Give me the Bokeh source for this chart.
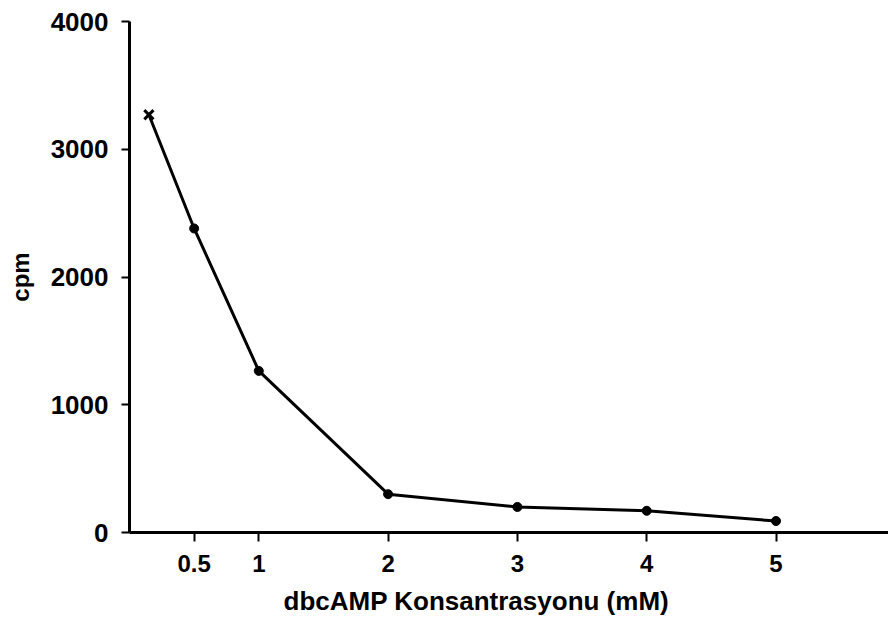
from bokeh.plotting import figure
from bokeh.models import ColumnDataSource, FixedTicker, Range1d, Title
from bokeh.embed import file_html
from bokeh.resources import INLINE

# Data
conc = [0.15, 0.5, 1, 2, 3, 4, 5]
cpm = [3270, 2380, 1265, 300, 200, 170, 90]
x_ticks = [0.5, 1, 2, 3, 4, 5]
x_tick_labels = ["0.5", "1", "2", "3", "4", "5"]
y_ticks = [0, 1000, 2000, 3000, 4000]
y_tick_labels = ["0", "1000", "2000", "3000", "4000"]
x_title = "dbcAMP  Konsantrasyonu (mM)"
y_title = "cpm"

FONT = "Liberation Sans"

p = figure(width=888, height=629, output_backend="svg", toolbar_location=None,
           x_range=Range1d(0, 5.87), y_range=Range1d(0, 4000),
           min_border_left=129, min_border_right=0, min_border_top=21,
           min_border_bottom=97)
p.outline_line_color = None
p.xgrid.visible = False
p.ygrid.visible = False
p.background_fill_color = "white"
p.border_fill_color = "white"

src_line = ColumnDataSource(dict(x=conc, y=cpm))
src_dots = ColumnDataSource(dict(x=conc[1:], y=cpm[1:]))
src_first = ColumnDataSource(dict(x=conc[:1], y=cpm[:1]))

p.line("x", "y", source=src_line, line_width=3, line_color="black")
p.scatter("x", "y", source=src_dots, marker="circle", size=9,
          fill_color="black", line_color="black")
p.scatter("x", "y", source=src_first, marker="x", size=13,
          line_color="black", line_width=3)

# X axis
xa = p.xaxis[0]
xa.ticker = FixedTicker(ticks=x_ticks)
xa.major_label_overrides = {t: l for t, l in zip(x_ticks, x_tick_labels)}
xa.minor_tick_line_color = None
xa.axis_line_width = 3
xa.axis_line_color = "black"
xa.major_tick_line_width = 2
xa.major_tick_out = 9
xa.major_tick_in = 0
xa.major_label_standoff = 13
xa.major_label_text_font = FONT
xa.major_label_text_font_style = "bold"
xa.major_label_text_font_size = "24px"
xa.major_label_text_color = "black"

# Y axis
ya = p.yaxis[0]
ya.ticker = FixedTicker(ticks=y_ticks)
ya.major_label_overrides = {t: l for t, l in zip(y_ticks, y_tick_labels)}
ya.minor_tick_line_color = None
ya.axis_line_width = 3
ya.axis_line_color = "black"
ya.major_tick_line_width = 2
ya.major_tick_out = 8
ya.major_tick_in = 0
ya.major_label_standoff = 13
ya.major_label_text_font = FONT
ya.major_label_text_font_style = "bold"
ya.major_label_text_font_size = "26px"
ya.major_label_text_color = "black"
ya.axis_label = y_title
ya.axis_label_text_font = FONT
ya.axis_label_text_font_style = "bold"
ya.axis_label_text_font_size = "24px"
ya.axis_label_text_color = "black"
ya.axis_label_standoff = 14

# X axis title below the axis, left-offset as in the reference
p.add_layout(Title(text=x_title, align="left", offset=154, standoff=18,
                   text_font=FONT, text_font_style="bold",
                   text_font_size="26px", text_color="black"), "below")

open("out.html", "w").write(file_html(p, INLINE))
